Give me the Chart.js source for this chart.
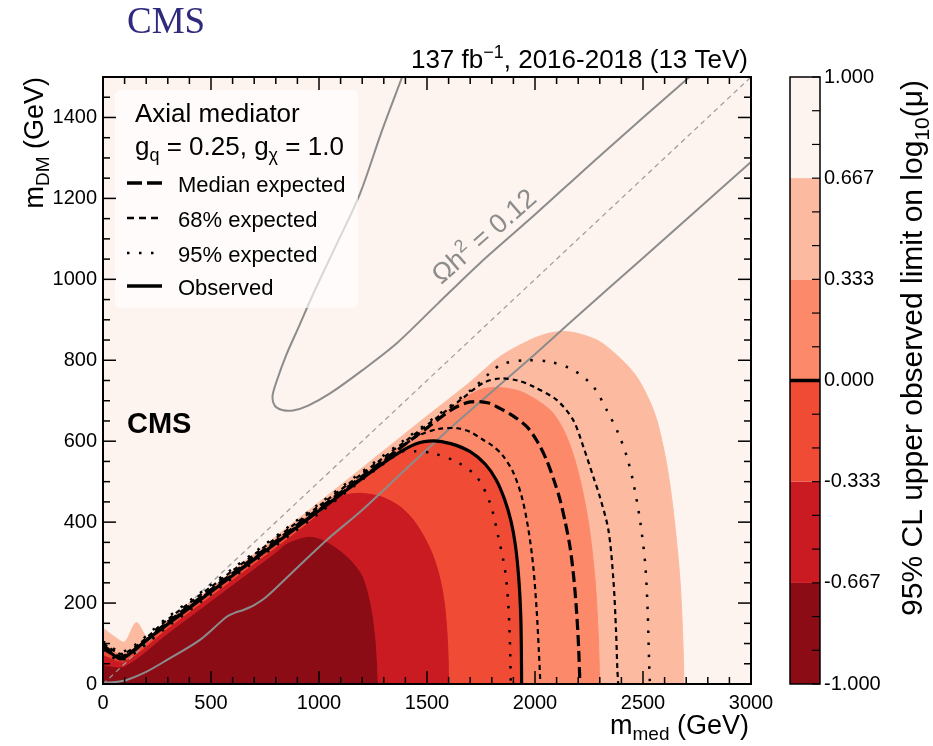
<!DOCTYPE html>
<html>
<head>
<meta charset="utf-8">
<title>CMS axial mediator limits</title>
<script src="https://cdn.jsdelivr.net/npm/chart.js@4.4.1/dist/chart.umd.min.js"></script>
<style>
html, body { margin: 0; padding: 0; background: #fff; }
#wrap { position: relative; width: 933px; height: 746px; }
</style>
</head>
<body>
<div id="wrap"><canvas id="chart" width="933" height="746"></canvas></div>
<script>
// axis ticks
var xTicks = [0, 500, 1000, 1500, 2000, 2500, 3000];
var yTicks = [0, 200, 400, 600, 800, 1000, 1200, 1400];

// colour scale, log10(mu) levels and band colours (low -> high)
var cbLevels = [-1, -0.667, -0.333, 0, 0.333, 0.667, 1];
var cbColors = ['#8c0c16', '#cb1b22', '#f04b35', '#fc8a6a', '#fcbba1', '#fdf3ef'];

// filled contours [m_med, m_DM] in GeV, each one closes down to m_DM = 0
var cont0667 = [[0,138],[50,118],[100,104],[155,152],[215,112],[400,193],[800,364],[1200,534],[1500,662],[1700,746],[1838,809],[1977,850],[2060,866],[2130,871],[2200,866],[2300,846],[2400,802],[2471,759],[2530,700],[2564,652],[2600,570],[2625,490],[2650,380],[2671,257],[2683,130],[2690,0]];
var cont0333 = [[0,100],[95,73],[300,156],[600,276],[1000,436],[1300,556],[1500,636],[1650,698],[1750,728],[1850,732],[1950,719],[2070,677],[2130,630],[2175,570],[2215,490],[2250,390],[2278,257],[2292,130],[2300,0]];
var cont0 = [[0,88],[40,75],[86,62],[200,108],[400,188],[600,268],[800,348],[1000,428],[1200,508],[1350,565],[1450,594],[1530,601],[1610,594],[1700,574],[1770,543],[1820,505],[1860,455],[1890,400],[1910,340],[1925,260],[1934,170],[1937,80],[1938,0]];
var contM0333 = [[0,70],[100,55],[300,136],[600,256],[900,376],[1000,420],[1065,455],[1130,468],[1200,471],[1290,462],[1375,438],[1437,405],[1490,360],[1529,315],[1560,260],[1580,200],[1592,130],[1598,60],[1600,0]];
var contM0667 = [[0,45],[100,42],[300,123],[500,203],[700,283],[800,323],[850,345],[943,362],[1000,358],[1066,340],[1144,306],[1200,265],[1235,200],[1255,130],[1265,60],[1270,0]];

// expected limits
var expMedian = [[0,95],[90,68],[300,153],[600,273],[1000,433],[1300,553],[1500,633],[1620,680],[1700,697],[1780,695],[1838,681],[1900,662],[1962,636],[2010,600],[2054,553],[2090,500],[2116,455],[2140,400],[2162,339],[2180,260],[2193,175],[2202,90],[2208,0]];
var exp68lo = [[0,91],[88,65],[300,151],[600,271],[1000,431],[1300,551],[1450,611],[1550,630],[1640,632],[1700,623],[1761,603],[1800,590],[1850,565],[1900,522],[1940,460],[1970,380],[1992,290],[2008,180],[2018,80],[2025,0]];
var exp68hi = [[0,100],[95,75],[300,160],[600,280],[1000,440],[1300,560],[1500,640],[1650,700],[1760,744],[1838,755],[1920,750],[1992,735],[2100,702],[2177,652],[2224,586],[2270,512],[2300,463],[2340,380],[2363,257],[2375,133],[2381,40],[2385,0]];
var exp95lo = [[0,85],[85,58],[300,142],[600,262],[1000,422],[1375,572],[1450,575],[1529,570],[1637,549],[1730,512],[1792,447],[1830,364],[1861,282],[1876,200],[1884,100],[1888,0]];
var exp95hi = [[0,105],[95,80],[300,165],[600,285],[1000,445],[1400,605],[1700,725],[1807,776],[1853,792],[1962,800],[2070,796],[2177,776],[2270,735],[2332,677],[2386,619],[2425,562],[2455,498],[2486,405],[2510,298],[2522,175],[2528,60],[2532,0]];

// relic density Omega h^2 = 0.12 and m_DM = m_med / 2
var relicLow = [[0,3],[60,5],[110,10],[200,30],[295,59],[449,109],[573,166],[620,178],[650,183],[700,195],[758,216],[912,294],[1036,356],[1200,430],[1400,530],[1607,632],[1800,722],[2000,815],[2177,900],[2500,1053],[3000,1290]];
var relicHigh = [[1385,1500],[1290,1365],[1190,1212],[1080,1085],[974,965],[900,875],[850,815],[805,750],[785,712],[795,688],[830,677],[880,676],[950,688],[1051,718],[1200,775],[1360,842],[1550,940],[1745,1040],[2000,1160],[2300,1305],[2702,1494],[2715,1500]];
var halfLine = [[0,0],[3000,1500]];

var legendLabels = ['Median expected', '68% expected', '95% expected', 'Observed'];

var sans = '"Liberation Sans", Arial, Helvetica, sans-serif';
Chart.defaults.font.family = sans;

function pts(a) {
  return a.map(function (p) { return {x: p[0], y: p[1]}; });
}
function fillSet(data, color, order) {
  return {data: pts(data), fill: 'origin', backgroundColor: color, borderColor: color, borderWidth: 1,
    pointRadius: 0, tension: 0.3, order: order};
}
function lineSet(data, color, width, dash, order) {
  return {data: pts(data), fill: false, borderColor: color, borderWidth: width, borderDash: dash,
    pointRadius: 0, tension: 0.3, order: order};
}

function seg(t, size, dy, bold) {
  return {t: t, font: (bold ? 'bold ' : '') + size + 'px ' + sans, dy: dy || 0};
}
function drawRich(ctx, segs, x, y, align) {
  var w = 0;
  segs.forEach(function (s) { ctx.font = s.font; w += ctx.measureText(s.t).width; });
  var cx = align == 'right' ? x - w : (align == 'center' ? x - w / 2 : x);
  ctx.textAlign = 'left';
  ctx.textBaseline = 'alphabetic';
  segs.forEach(function (s) {
    ctx.font = s.font;
    ctx.fillText(s.t, cx, y + s.dy);
    cx += ctx.measureText(s.t).width;
  });
}
function seg2(ctx, x0, y0, x1, y1) {
  ctx.beginPath(); ctx.moveTo(x0, y0); ctx.lineTo(x1, y1); ctx.stroke();
}

var medDash = [11, 5], d68 = [5, 4], d95 = [2.5, 9.5];

var framePlugin = {
  id: 'frame',
  beforeDatasetsDraw: function (chart) {
    var a = chart.chartArea, ctx = chart.ctx;
    ctx.save();
    ctx.fillStyle = cbColors[5];
    ctx.fillRect(a.left, a.top, a.right - a.left, a.bottom - a.top);
    ctx.restore();
  },
  afterDatasetsDraw: function (chart) {
    var a = chart.chartArea, ctx = chart.ctx;
    var xs = chart.scales.x, ys = chart.scales.y;
    ctx.save();

    // legend box
    ctx.fillStyle = 'rgba(255,255,255,0.65)';
    ctx.beginPath();
    ctx.roundRect(115, 90, 243, 218, 6);
    ctx.fill();
    ctx.fillStyle = '#000';
    drawRich(ctx, [seg('Axial mediator', 26)], 135, 122, 'left');
    drawRich(ctx, [seg('g', 26), seg('q', 18, 6), seg(' = 0.25, g', 26), seg('\u03c7', 18, 6), seg(' = 1.0', 26)], 135, 155, 'left');
    var ly = [183, 218, 253, 286];
    var ldash = [[15, 5], [7, 5], [2.5, 9.5], []];
    var lw = [3.5, 2.5, 2.5, 3.5];
    var lend = [162, 158, 154, 162];
    ctx.strokeStyle = '#000';
    for (var i = 0; i < legendLabels.length; i++) {
      ctx.lineWidth = lw[i];
      ctx.setLineDash(ldash[i]);
      seg2(ctx, 127, ly[i], lend[i], ly[i]);
      ctx.setLineDash([]);
      drawRich(ctx, [seg(legendLabels[i], 22)], 178, ly[i] + 9, 'left');
    }

    // CMS label
    drawRich(ctx, [seg('CMS', 29, 0, true)], 127, 433, 'left');

    // relic label along the contour
    ctx.save();
    ctx.translate(xs.getPixelForValue(1790), ys.getPixelForValue(1090));
    ctx.rotate(-41 * Math.PI / 180);
    ctx.fillStyle = '#8c8c8c';
    drawRich(ctx, [seg('\u03a9h', 27), seg('2', 18, -11), seg(' = 0.12', 27)], 0, 0, 'center');
    ctx.restore();

    // inward ticks
    ctx.strokeStyle = '#000';
    ctx.lineWidth = 1.5;
    var v, p, len;
    for (v = 0; v <= 3000; v += 100) {
      p = xs.getPixelForValue(v);
      len = v % 500 == 0 ? 13 : 7;
      seg2(ctx, p, a.bottom, p, a.bottom - len);
      seg2(ctx, p, a.top, p, a.top + len);
    }
    for (v = 0; v <= 1500; v += 50) {
      p = ys.getPixelForValue(v);
      len = v % 200 == 0 ? 13 : 7;
      seg2(ctx, a.left, p, a.left + len, p);
      seg2(ctx, a.right, p, a.right - len, p);
    }
    ctx.lineWidth = 2;
    ctx.strokeRect(a.left, a.top, a.right - a.left, a.bottom - a.top);
    ctx.restore();
  },
  afterDraw: function (chart) {
    var a = chart.chartArea, ctx = chart.ctx, cs = chart.scales.cb;
    ctx.save();
    // colour bar
    var bx0 = a.right + 39, bx1 = a.right + 69;
    for (var i = 0; i < cbColors.length; i++) {
      var y0 = cs.getPixelForValue(cbLevels[i]), y1 = cs.getPixelForValue(cbLevels[i + 1]);
      ctx.fillStyle = cbColors[i];
      ctx.fillRect(bx0, y1, bx1 - bx0, y0 - y1);
    }
    ctx.strokeStyle = '#000';
    ctx.lineWidth = 1.2;
    for (var k = 0; k <= 18; k++) {
      var ty = cs.getPixelForValue(-1 + k / 9);
      seg2(ctx, bx1, ty, bx1 - 8, ty);
    }
    ctx.lineWidth = 3.5;
    var zy = cs.getPixelForValue(0);
    seg2(ctx, bx0, zy, bx1, zy);
    ctx.lineWidth = 1.5;
    ctx.strokeRect(bx0, a.top, bx1 - bx0, a.bottom - a.top);

    // titles
    ctx.fillStyle = '#000';
    drawRich(ctx, [seg('m', 27), seg('med', 19, 6), seg(' (GeV)', 27)], 749, 734, 'right');
    ctx.save();
    ctx.translate(43, 77);
    ctx.rotate(-Math.PI / 2);
    drawRich(ctx, [seg('m', 27), seg('DM', 19, 6), seg(' (GeV)', 27)], 0, 0, 'right');
    ctx.restore();
    ctx.save();
    ctx.translate(922, 80);
    ctx.rotate(-Math.PI / 2);
    drawRich(ctx, [seg('95% CL upper observed limit on log', 30), seg('10', 21, 7), seg('(\u03bc)', 30)], 0, 0, 'right');
    ctx.restore();
    drawRich(ctx, [seg('137 fb', 26), seg('\u22121', 18, -10), seg(', 2016-2018 (13 TeV)', 26)], 748, 68, 'right');
    ctx.fillStyle = '#2f2a7c';
    ctx.font = '37px "Liberation Serif", "Times New Roman", serif';
    ctx.fillText('CMS', 127, 33);
    ctx.restore();
  }
};

var chart = new Chart(document.getElementById('chart'), {
  type: 'line',
  data: {
    datasets: [
      lineSet(cont0, '#000', 3.2, [], 1),
      lineSet(expMedian, '#000', 3.2, medDash, 2),
      lineSet(exp68lo, '#000', 2.2, d68, 3),
      lineSet(exp68hi, '#000', 2.2, d68, 3),
      lineSet(exp95lo, '#000', 2.5, d95, 4),
      lineSet(exp95hi, '#000', 2.5, d95, 4),
      lineSet(relicLow, '#8c8c8c', 2, [], 5),
      lineSet(relicHigh, '#8c8c8c', 2, [], 5),
      lineSet(halfLine, '#9a9a9a', 1.2, [5, 4], 5),
      fillSet(contM0667, cbColors[0], 6),
      fillSet(contM0333, cbColors[1], 7),
      fillSet(cont0, cbColors[2], 8),
      fillSet(cont0333, cbColors[3], 9),
      fillSet(cont0667, cbColors[4], 10)
    ]
  },
  options: {
    responsive: false,
    animation: false,
    devicePixelRatio: 1,
    layout: {padding: {top: 77, left: 0, right: 0, bottom: 0}},
    plugins: {legend: {display: false}, tooltip: {enabled: false}},
    scales: {
      x: {
        type: 'linear', min: 0, max: 3000,
        afterBuildTicks: function (s) { s.ticks = xTicks.map(function (v) { return {value: v}; }); },
        afterFit: function (s) { s.height = 62; },
        grid: {display: false, drawTicks: false},
        border: {display: false},
        ticks: {padding: 7, color: '#000', font: {size: 20}, maxRotation: 0, autoSkip: false,
          callback: function (v) { return String(v); }}
      },
      y: {
        type: 'linear', min: 0, max: 1500,
        afterBuildTicks: function (s) { s.ticks = yTicks.map(function (v) { return {value: v}; }); },
        afterFit: function (s) { s.width = 103; s.paddingTop = 0; s.paddingBottom = 0; },
        grid: {display: false, drawTicks: false},
        border: {display: false},
        ticks: {padding: 6, color: '#000', font: {size: 20}, autoSkip: false,
          callback: function (v) { return String(v); }}
      },
      cb: {
        type: 'linear', position: 'right', min: -1, max: 1,
        afterBuildTicks: function (s) { s.ticks = cbLevels.map(function (v) { return {value: v}; }); },
        // the big label padding would otherwise be added above and below the plot
        afterFit: function (s) { s.width = 182; s.paddingTop = 0; s.paddingBottom = 0; },
        grid: {display: false, drawTicks: false},
        border: {display: false},
        ticks: {padding: 73, color: '#000', font: {size: 20}, autoSkip: false,
          callback: function (v) { return v.toFixed(3); }}
      }
    }
  },
  plugins: [framePlugin]
});
</script>
</body>
</html>
